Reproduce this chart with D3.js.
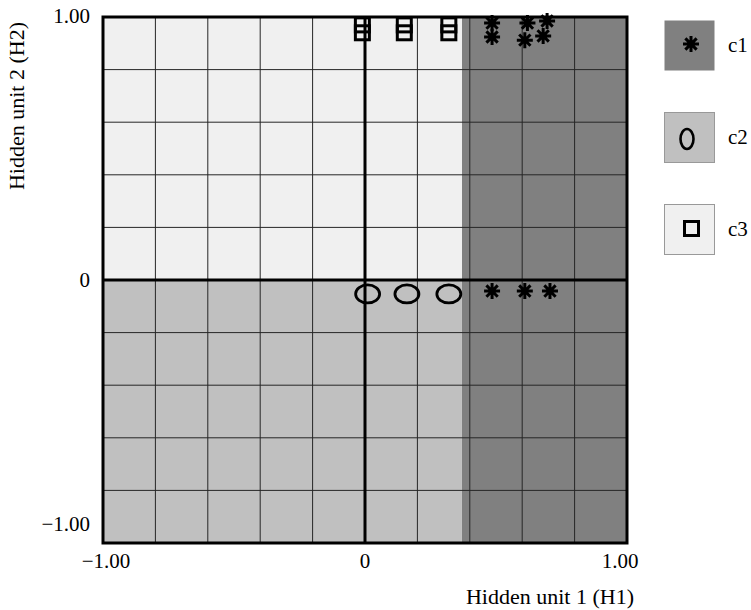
<!DOCTYPE html>
<html>
<head>
<meta charset="utf-8">
<script src="https://cdn.jsdelivr.net/npm/d3@7"></script>
<style>
  body { margin: 0; background: #fff; }
  text { font-family: "Liberation Serif", "Times New Roman", serif; fill: #000; }
</style>
</head>
<body>
<div id="chart"></div>
<script>
// ***************数据*******************
const classes = ['c1', 'c2', 'c3'];
const regionFill = ['#808080', '#c0c0c0', '#f0f0f0'];
const boundaryH1 = 0.37; // 右侧 c1 区域起点
const gridTicks = [-0.8, -0.6, -0.4, -0.2, 0.2, 0.4, 0.6, 0.8];
const tickValues = [-1, 0, 1];
const tickLabels = ['\u22121.00', '0', '1.00'];

const c1H1 = [0.485, 0.485, 0.62, 0.695, 0.61, 0.68, 0.485, 0.61, 0.706];
const c1H2 = [0.977, 0.924, 0.977, 0.985, 0.912, 0.928, -0.042, -0.042, -0.042];
const c2H1 = [0.01, 0.16, 0.32];
const c2H2 = [-0.053, -0.053, -0.053];
const c3H1 = [-0.01, -0.01, 0.15, 0.15, 0.32, 0.32];
const c3H2 = [0.97, 0.94, 0.97, 0.94, 0.97, 0.94];

const width = 751;
const height = 610;
const paddingLeft = 103;
const paddingTop = 17;
const plotW = 524;
const plotH = 526;

const xScale = d3.scaleLinear().domain([-1, 1]).range([paddingLeft, paddingLeft + plotW]);
const yScale = d3.scaleLinear().domain([-1, 1]).range([paddingTop + plotH, paddingTop]);

const svg = d3.select('#chart').append('svg')
    .attr('width', width)
    .attr('height', height);

// ***************区域*******************
const regions = [
    { x0: boundaryH1, x1: 1, y0: -1, y1: 1, fill: regionFill[0] },
    { x0: -1, x1: boundaryH1, y0: -1, y1: 0, fill: regionFill[1] },
    { x0: -1, x1: boundaryH1, y0: 0, y1: 1, fill: regionFill[2] }
];
svg.selectAll('.region')
    .data(regions)
    .enter()
    .append('rect')
    .attr('x', (d) => xScale(d.x0))
    .attr('y', (d) => yScale(d.y1))
    .attr('width', (d) => xScale(d.x1) - xScale(d.x0))
    .attr('height', (d) => yScale(d.y0) - yScale(d.y1))
    .attr('fill', (d) => d.fill);

// 网格线
const grid = svg.append('g').attr('stroke', '#262626').attr('stroke-width', 1);
grid.selectAll('.vgrid')
    .data(gridTicks)
    .enter()
    .append('line')
    .attr('x1', (d) => xScale(d))
    .attr('x2', (d) => xScale(d))
    .attr('y1', yScale(1))
    .attr('y2', yScale(-1));
grid.selectAll('.hgrid')
    .data(gridTicks)
    .enter()
    .append('line')
    .attr('x1', xScale(-1))
    .attr('x2', xScale(1))
    .attr('y1', (d) => yScale(d))
    .attr('y2', (d) => yScale(d));

// 零轴
svg.append('line')
    .attr('x1', xScale(0)).attr('x2', xScale(0))
    .attr('y1', yScale(1)).attr('y2', yScale(-1))
    .attr('stroke', '#000').attr('stroke-width', 3);
svg.append('line')
    .attr('x1', xScale(-1)).attr('x2', xScale(1))
    .attr('y1', yScale(0)).attr('y2', yScale(0))
    .attr('stroke', '#000').attr('stroke-width', 3);

// 外框
svg.append('rect')
    .attr('x', xScale(-1))
    .attr('y', yScale(1))
    .attr('width', plotW)
    .attr('height', plotH)
    .attr('fill', 'none')
    .attr('stroke', '#000')
    .attr('stroke-width', 3);

// ***************标记*******************
const starPath = (r) => {
    let p = '';
    for (let i = 0; i < 4; i++) {
        const a = i * Math.PI / 4;
        const dx = r * Math.sin(a);
        const dy = r * Math.cos(a);
        p += `M${-dx},${-dy}L${dx},${dy}`;
    }
    return p;
};

function drawStars(g, xs, ys, r) {
    g.selectAll('.star')
        .data(xs.map((x, i) => [x, ys[i]]))
        .enter()
        .append('path')
        .attr('d', starPath(r))
        .attr('transform', (d) => `translate(${xScale(d[0])},${yScale(d[1])})`)
        .attr('stroke', '#000')
        .attr('stroke-width', 3)
        .attr('fill', 'none');
}

const marks = svg.append('g');
drawStars(marks.append('g'), c1H1, c1H2, 8);

marks.append('g').selectAll('ellipse')
    .data(c2H1.map((x, i) => [x, c2H2[i]]))
    .enter()
    .append('ellipse')
    .attr('cx', (d) => xScale(d[0]))
    .attr('cy', (d) => yScale(d[1]))
    .attr('rx', 12)
    .attr('ry', 9)
    .attr('fill', 'none')
    .attr('stroke', '#000')
    .attr('stroke-width', 2.8);

marks.append('g').selectAll('rect')
    .data(c3H1.map((x, i) => [x, c3H2[i]]))
    .enter()
    .append('rect')
    .attr('x', (d) => xScale(d[0]) - 7)
    .attr('y', (d) => yScale(d[1]) - 7)
    .attr('width', 14)
    .attr('height', 14)
    .attr('fill', 'none')
    .attr('stroke', '#000')
    .attr('stroke-width', 3);

// ***************刻度*******************
svg.append('g').selectAll('text')
    .data(tickValues)
    .enter()
    .append('text')
    .attr('x', (d) => xScale(d) + (d === -1 ? 3 : d === 1 ? -7 : 0))
    .attr('y', 568)
    .attr('text-anchor', 'middle')
    .attr('font-size', 21)
    .text((d, i) => tickLabels[i]);

svg.append('g').selectAll('text')
    .data(tickValues)
    .enter()
    .append('text')
    .attr('x', 90)
    .attr('y', (d) => yScale(d) + (d === -1 ? -12 : d === 1 ? 6 : 7))
    .attr('text-anchor', 'end')
    .attr('font-size', 21)
    .text((d, i) => tickLabels[i]);

// 轴标题
svg.append('text')
    .attr('x', 550)
    .attr('y', 604)
    .attr('text-anchor', 'middle')
    .attr('font-size', 22)
    .text('Hidden unit 1 (H1)');

svg.append('text')
    .attr('transform', 'translate(24,106) rotate(-90)')
    .attr('text-anchor', 'middle')
    .attr('font-size', 22)
    .text('Hidden unit 2 (H2)');

// ***************图例*******************
const legend = svg.append('g').attr('transform', 'translate(664,20)');
const legendItem = legend.selectAll('.legendItem')
    .data(classes)
    .enter()
    .append('g')
    .attr('transform', (d, i) => `translate(0,${i * 92})`);

legendItem.append('rect')
    .attr('x', 0.5)
    .attr('y', 0.5)
    .attr('width', 50)
    .attr('height', 50)
    .attr('fill', (d, i) => regionFill[i])
    .attr('stroke', (d, i) => (i === 0 ? 'none' : '#999'))
    .attr('stroke-width', 1);

legendItem.append('text')
    .attr('x', 64)
    .attr('y', 32)
    .attr('font-size', 21)
    .text((d) => d);

legendItem.filter((d, i) => i === 0).append('path')
    .attr('d', starPath(8))
    .attr('transform', 'translate(27,24)')
    .attr('stroke', '#000')
    .attr('stroke-width', 3);
legendItem.filter((d, i) => i === 1).append('ellipse')
    .attr('cx', 23).attr('cy', 27)
    .attr('rx', 6.5).attr('ry', 10)
    .attr('fill', 'none')
    .attr('stroke', '#000')
    .attr('stroke-width', 2.6);
legendItem.filter((d, i) => i === 2).append('rect')
    .attr('x', 20.5).attr('y', 17.5)
    .attr('width', 14).attr('height', 14)
    .attr('fill', 'none')
    .attr('stroke', '#000')
    .attr('stroke-width', 3);
</script>
</body>
</html>
